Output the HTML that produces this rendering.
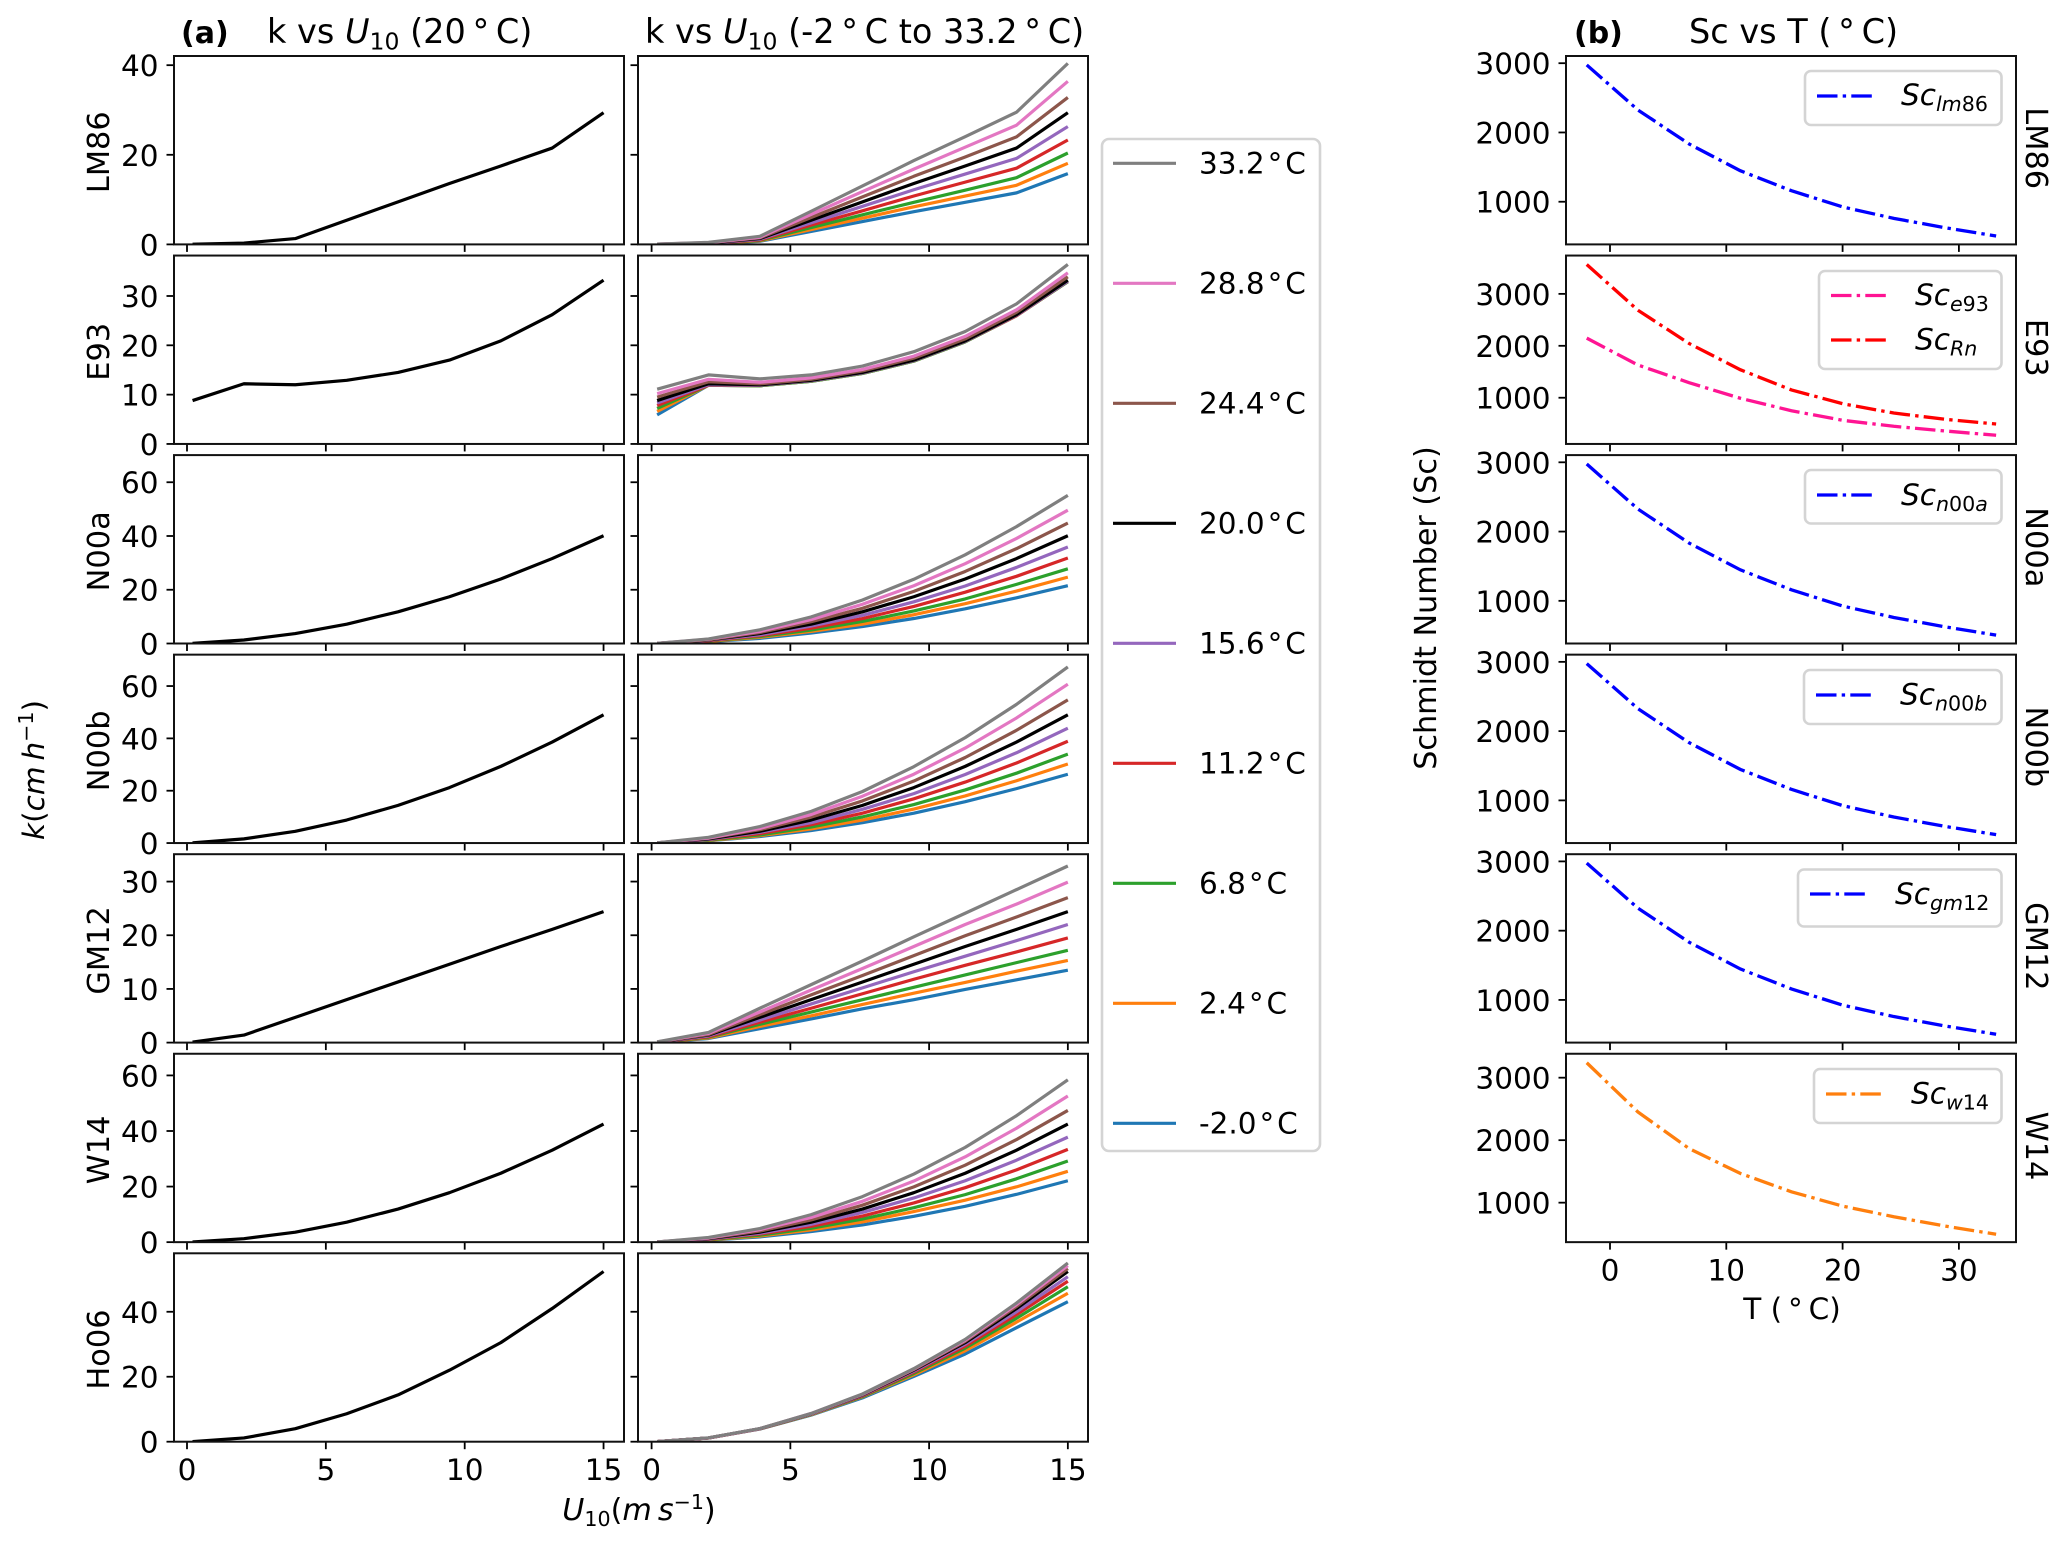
<!DOCTYPE html>
<html lang="en">
<head>
<meta charset="utf-8">
<title>Gas transfer velocity and Schmidt number panels</title>
<style>
html,body{margin:0;padding:0;background:#fff;}
svg{display:block;font-family:"DejaVu Sans","Liberation Sans",sans-serif;fill:#000;}
text{font-size:29.5px;fill:#000;}
.sub{font-size:20.6px;}
.it{font-style:italic;}
.title{font-size:33.5px;}
.title .sub{font-size:23.5px;}
.axis-title{font-size:30.2px;}
.row-label{font-size:30.4px;}
.letter{font-size:30px;font-weight:bold;}
.legend-box{fill:#fff;stroke:#d4d4d4;stroke-width:2.6;}
</style>
</head>
<body>
<svg id="figure" width="2067" height="1543" viewBox="0 0 2067 1543">
  <rect x="0" y="0" width="2067" height="1543" fill="#fff"/>
  <g id="panels"></g>

  <text class="letter" x="181" y="43">(a)</text>
  <text class="title" x="267" y="43">k vs <tspan class="it">U</tspan><tspan class="sub" dy="6.5">10</tspan><tspan dy="-6.5"> (20&#8201;°&#8201;C)</tspan></text>
  <text class="title" x="645" y="43">k vs <tspan class="it">U</tspan><tspan class="sub" dy="6.5">10</tspan><tspan dy="-6.5"> (-2&#8201;°&#8201;C to 33.2&#8201;°&#8201;C)</tspan></text>
  <text class="letter" x="1574" y="43">(b)</text>
  <text class="title" x="1689" y="43">Sc vs T (&#8201;°&#8201;C)</text>

  <text transform="translate(44,770) rotate(-90)" text-anchor="middle"><tspan class="it">k</tspan>(<tspan class="it">cm&#8201;h</tspan><tspan class="sub" dy="-11">−1</tspan><tspan dy="11">)</tspan></text>
  <text class="axis-title" x="639" y="1520" text-anchor="middle"><tspan class="it">U</tspan><tspan class="sub" dy="6">10</tspan><tspan dy="-6">(</tspan><tspan class="it">m&#8201;s</tspan><tspan class="sub" dy="-11">−1</tspan><tspan dy="11">)</tspan></text>
  <text class="axis-title" transform="translate(1436,608) rotate(-90)" text-anchor="middle">Schmidt Number (Sc)</text>
  <text x="1792" y="1319" text-anchor="middle">T (&#8201;°&#8201;C)</text>

  <g>
    <rect class="legend-box" x="1102" y="139" width="218" height="1012" rx="7"/>
    <g id="tempLegendEntries"></g>
  </g>

  <g>
    <rect class="legend-box" x="1805" y="71" width="196.5" height="54" rx="6"/>
    <line x1="1817" y1="96" x2="1877" y2="96" stroke="#0000ff" stroke-width="3.3" stroke-dasharray="20.5 5.2 3.4 5.2"/>
    <text x="1901" y="105"><tspan class="it">Sc</tspan><tspan class="sub it" dy="6">lm</tspan><tspan class="sub">86</tspan></text>
  </g>
  <g>
    <rect class="legend-box" x="1819" y="271" width="182.5" height="98" rx="6"/>
    <line x1="1831" y1="295.5" x2="1891" y2="295.5" stroke="#ff1493" stroke-width="3.3" stroke-dasharray="20.5 5.2 3.4 5.2"/>
    <text x="1915" y="305"><tspan class="it">Sc</tspan><tspan class="sub it" dy="6">e</tspan><tspan class="sub">93</tspan></text>
    <line x1="1831" y1="340" x2="1891" y2="340" stroke="#ff0000" stroke-width="3.3" stroke-dasharray="20.5 5.2 3.4 5.2"/>
    <text x="1915" y="349.5"><tspan class="it">Sc</tspan><tspan class="sub it" dy="6">Rn</tspan></text>
  </g>
  <g>
    <rect class="legend-box" x="1805" y="470" width="196.5" height="53.5" rx="6"/>
    <line x1="1817" y1="495" x2="1877" y2="495" stroke="#0000ff" stroke-width="3.3" stroke-dasharray="20.5 5.2 3.4 5.2"/>
    <text x="1901" y="505"><tspan class="it">Sc</tspan><tspan class="sub it" dy="6">n</tspan><tspan class="sub">00</tspan><tspan class="sub it">a</tspan></text>
  </g>
  <g>
    <rect class="legend-box" x="1804" y="670" width="197.5" height="54" rx="6"/>
    <line x1="1816" y1="695" x2="1876" y2="695" stroke="#0000ff" stroke-width="3.3" stroke-dasharray="20.5 5.2 3.4 5.2"/>
    <text x="1900" y="704.5"><tspan class="it">Sc</tspan><tspan class="sub it" dy="6">n</tspan><tspan class="sub">00</tspan><tspan class="sub it">b</tspan></text>
  </g>
  <g>
    <rect class="legend-box" x="1798" y="869.5" width="203.5" height="57" rx="6"/>
    <line x1="1810" y1="894" x2="1870" y2="894" stroke="#0000ff" stroke-width="3.3" stroke-dasharray="20.5 5.2 3.4 5.2"/>
    <text x="1895" y="904"><tspan class="it">Sc</tspan><tspan class="sub it" dy="6">gm</tspan><tspan class="sub">12</tspan></text>
  </g>
  <g>
    <rect class="legend-box" x="1814" y="1069" width="187.5" height="54" rx="6"/>
    <line x1="1826" y1="1094" x2="1886" y2="1094" stroke="#ff7f0e" stroke-width="3.3" stroke-dasharray="20.5 5.2 3.4 5.2"/>
    <text x="1911" y="1103.5"><tspan class="it">Sc</tspan><tspan class="sub it" dy="6">w</tspan><tspan class="sub">14</tspan></text>
  </g>
</svg>

<script>
// ---- shared categories ----
const windSpeed = [0.2, 2.05, 3.9, 5.75, 7.6, 9.45, 11.3, 13.15, 15];
const temperatures = [-2, 2.4, 6.8, 11.2, 15.6, 20, 24.4, 28.8, 33.2];
const tempLabels = ['-2.0', '2.4', '6.8', '11.2', '15.6', '20.0', '24.4', '28.8', '33.2'];
const modelNames = ['LM86', 'E93', 'N00a', 'N00b', 'GM12', 'W14', 'Ho06'];

// ---- k values, one row per temperature (coldest first) ----
const kLM86 = [
  [0.02, 0.13, 0.7, 2.9, 5.1, 7.3, 9.4, 11.5, 15.8],
  [0.02, 0.15, 0.8, 3.3, 5.85, 8.4, 10.8, 13.2, 18.1],
  [0.03, 0.17, 0.9, 3.75, 6.6, 9.4, 12.1, 14.9, 20.4],
  [0.03, 0.2, 1.0, 4.3, 7.5, 10.8, 13.9, 17.0, 23.3],
  [0.04, 0.25, 1.15, 4.8, 8.5, 12.2, 15.7, 19.2, 26.3],
  [0.05, 0.3, 1.3, 5.4, 9.5, 13.6, 17.5, 21.5, 29.4],
  [0.06, 0.35, 1.45, 6.0, 10.6, 15.2, 19.5, 24.0, 32.8],
  [0.06, 0.4, 1.6, 6.7, 11.8, 16.8, 21.7, 26.6, 36.4],
  [0.07, 0.45, 1.8, 7.4, 13.05, 18.7, 24.05, 29.5, 40.4]
];
const kE93 = [
  [5.9, 11.9, 11.8, 12.7, 14.3, 16.8, 20.7, 26.0, 32.9],
  [6.6, 11.9, 11.8, 12.7, 14.3, 16.8, 20.7, 26.0, 32.9],
  [7.2, 11.9, 11.8, 12.7, 14.3, 16.8, 20.7, 26.0, 32.9],
  [7.8, 11.9, 11.9, 12.8, 14.4, 16.9, 20.8, 26.0, 33.0],
  [8.3, 12.0, 11.9, 12.8, 14.4, 16.9, 20.8, 26.1, 33.0],
  [8.8, 12.2, 12.0, 12.9, 14.5, 17.0, 20.9, 26.2, 33.2],
  [9.5, 12.6, 12.2, 13.1, 14.8, 17.4, 21.3, 26.7, 33.9],
  [10.2, 13.1, 12.5, 13.4, 15.1, 17.8, 21.8, 27.2, 34.7],
  [11.1, 14.0, 13.2, 14.0, 15.8, 18.7, 22.8, 28.4, 36.4]
];
const kN00a = [
  [0.03, 0.69, 1.9, 3.9, 6.3, 9.3, 12.9, 17.0, 21.5],
  [0.03, 0.8, 2.3, 4.5, 7.2, 10.7, 14.8, 19.5, 24.7],
  [0.03, 0.9, 2.6, 5.0, 8.2, 12.1, 16.6, 22.0, 27.8],
  [0.04, 1.03, 2.9, 5.7, 9.3, 13.8, 19.1, 25.0, 31.8],
  [0.04, 1.19, 3.2, 6.5, 10.5, 15.5, 21.4, 28.3, 35.9],
  [0.05, 1.3, 3.7, 7.2, 11.8, 17.4, 24.0, 31.6, 40.1],
  [0.06, 1.4, 4.1, 8.1, 13.1, 19.4, 26.8, 35.3, 44.8],
  [0.06, 1.6, 4.5, 8.9, 14.6, 21.5, 29.7, 39.1, 49.6],
  [0.07, 1.7, 5.1, 9.9, 16.2, 23.9, 33.0, 43.5, 55.1]
];
const kN00b = [
  [0.03, 0.86, 2.5, 4.8, 7.8, 11.4, 15.8, 20.8, 26.3],
  [0.04, 0.97, 2.8, 5.4, 8.8, 13.0, 18.0, 23.8, 30.2],
  [0.04, 1.08, 3.1, 6.1, 10.0, 14.7, 20.3, 26.7, 34.0],
  [0.05, 1.3, 3.6, 7.0, 11.4, 16.9, 23.3, 30.6, 38.9],
  [0.05, 1.4, 4.1, 7.8, 12.9, 18.9, 26.2, 34.5, 43.9],
  [0.06, 1.6, 4.5, 8.8, 14.4, 21.2, 29.3, 38.6, 49.0],
  [0.07, 1.8, 5.1, 9.9, 16.1, 23.7, 32.7, 43.1, 54.7],
  [0.07, 1.9, 5.6, 10.9, 17.9, 26.3, 36.3, 47.8, 60.7],
  [0.08, 2.2, 6.3, 12.1, 19.7, 29.2, 40.3, 53.0, 67.3]
];
const kGM12 = [
  [0.05, 0.77, 2.6, 4.4, 6.3, 8.0, 9.9, 11.7, 13.5],
  [0.06, 0.87, 3.0, 5.0, 7.1, 9.2, 11.2, 13.3, 15.3],
  [0.07, 1.0, 3.4, 5.7, 8.0, 10.3, 12.6, 14.9, 17.2],
  [0.08, 1.1, 3.8, 6.4, 9.1, 11.8, 14.4, 16.9, 19.5],
  [0.09, 1.25, 4.2, 7.2, 10.2, 13.2, 16.1, 19.0, 22.0],
  [0.1, 1.4, 4.7, 8.0, 11.3, 14.6, 17.9, 21.1, 24.4],
  [0.11, 1.5, 5.2, 8.9, 12.5, 16.2, 19.9, 23.4, 27.0],
  [0.12, 1.7, 5.7, 9.8, 13.8, 17.9, 22.0, 25.8, 29.9],
  [0.14, 1.9, 6.4, 10.8, 15.2, 19.7, 24.1, 28.5, 32.9]
];
const kW14 = [
  [0.03, 0.65, 1.9, 3.8, 6.2, 9.3, 12.9, 17.2, 22.1],
  [0.04, 0.77, 2.2, 4.4, 7.3, 11.0, 15.1, 19.9, 25.5],
  [0.04, 0.87, 2.5, 5.0, 8.3, 12.4, 17.1, 22.8, 29.2],
  [0.05, 1.0, 2.9, 5.7, 9.4, 14.1, 19.6, 26.0, 33.4],
  [0.05, 1.1, 3.2, 6.4, 10.7, 15.9, 22.1, 29.5, 37.8],
  [0.06, 1.25, 3.6, 7.2, 11.9, 17.8, 24.8, 33.1, 42.5],
  [0.07, 1.4, 4.0, 8.0, 13.3, 19.9, 27.7, 36.9, 47.4],
  [0.07, 1.5, 4.5, 8.9, 14.7, 22.0, 30.7, 41.0, 52.6],
  [0.08, 1.7, 4.9, 9.9, 16.4, 24.5, 34.1, 45.5, 58.4]
];
const kHo06 = [
  [0.05, 1.14, 3.9, 8.2, 13.5, 20.1, 27.0, 35.1, 43.1],
  [0.05, 1.14, 3.94, 8.3, 13.8, 20.6, 28.0, 36.8, 45.7],
  [0.05, 1.15, 3.96, 8.4, 13.9, 21.0, 28.8, 38.0, 47.7],
  [0.05, 1.15, 3.97, 8.5, 14.1, 21.4, 29.4, 39.1, 49.4],
  [0.05, 1.15, 3.99, 8.5, 14.3, 21.7, 30.0, 40.0, 50.8],
  [0.05, 1.15, 4.0, 8.6, 14.4, 22.0, 30.5, 41.0, 52.4],
  [0.05, 1.15, 4.0, 8.6, 14.5, 22.2, 30.9, 41.6, 53.3],
  [0.05, 1.15, 4.02, 8.7, 14.6, 22.4, 31.2, 42.2, 54.2],
  [0.05, 1.2, 4.05, 8.7, 14.7, 22.5, 31.5, 42.7, 55.0]
];

// ---- Schmidt number curves ----
const scLM86 = [2975, 2325, 1834, 1448, 1159, 925, 760, 625, 505];
const scE93 = [2148, 1630, 1290, 990, 750, 565, 450, 360, 277];
const scRn = [3565, 2685, 2045, 1540, 1150, 885, 705, 585, 494];
const scN00a = [2975, 2325, 1834, 1448, 1159, 925, 760, 625, 505];
const scN00b = [2975, 2325, 1834, 1448, 1159, 925, 760, 625, 505];
const scGM12 = [2975, 2325, 1834, 1448, 1159, 925, 760, 625, 505];
const scW14 = [3239, 2451, 1866, 1468, 1174, 945, 775, 626, 494];

// ---- axis limits and tick labels ----
const kYMax = [42.05, 38.2, 70.1, 72, 35.1, 67.8, 58];
const kYTicksLM86 = [0, 20, 40];
const kYTicksE93 = [0, 10, 20, 30];
const kYTicksN00a = [0, 20, 40, 60];
const kYTicksN00b = [0, 20, 40, 60];
const kYTicksGM12 = [0, 10, 20, 30];
const kYTicksW14 = [0, 20, 40, 60];
const kYTicksHo06 = [0, 20, 40];
const scYMin = [384, 110, 384, 384, 384, 368];
const scYMax = [3104, 3738, 3104, 3104, 3104, 3383];
const scYTicks = [1000, 2000, 3000];
const windTicks = [0, 5, 10, 15];
const tempTicks = [0, 10, 20, 30];

const kSets = [kLM86, kE93, kN00a, kN00b, kGM12, kW14, kHo06];
const kTickSets = [kYTicksLM86, kYTicksE93, kYTicksN00a, kYTicksN00b, kYTicksGM12, kYTicksW14, kYTicksHo06];
const scCurves = [[scLM86], [scE93, scRn], [scN00a], [scN00b], [scGM12], [scW14]];
const scCurveNames = [['lm86'], ['e93', 'rn'], ['n00a'], ['n00b'], ['gm12'], ['w14']];
const scCurveColors = [['#0000ff'], ['#ff1493', '#ff0000'], ['#0000ff'], ['#0000ff'], ['#0000ff'], ['#ff7f0e']];
const tempColors = ['#1f77b4', '#ff7f0e', '#2ca02c', '#d62728', '#9467bd', '#000000', '#8c564b', '#e377c2', '#7f7f7f'];
const tempSlug = ['m2-0', '2-4', '6-8', '11-2', '15-6', '20-0', '24-4', '28-8', '33-2'];

// ---- layout ----
const rowTop0 = 56, rowPitch = 199.55, rowH = 188.4;
const colLeft = { x: 174, w: 450, origin: 187, perUnit: 27.77 };
const colMid = { x: 638, w: 450, origin: 651.6, perUnit: 27.75 };
const colRight = { x: 1566, w: 450, origin: 1610, perUnit: 11.63 };

const svg = document.getElementById('figure');
const panels = document.getElementById('panels');
const svgNS = svg.namespaceURI;

function mk(tag, parent, attrs) {
  const el = document.createElementNS(svgNS, tag);
  for (const k in attrs) el.setAttribute(k, attrs[k]);
  parent.appendChild(el);
  return el;
}
function linear(origin, perUnit) { return v => origin + v * perUnit; }
function yAxis(top, h, lo, hi) { return v => top + h - (v - lo) / (hi - lo) * h; }
function pathFrom(xs, ys, xf, yf) {
  return xs.map((x, i) => (i ? 'L' : 'M') + xf(x).toFixed(2) + ' ' + yf(ys[i]).toFixed(2)).join('');
}

function drawAxes(name, col, top, xf, xTicks, yf, yTicks, showXLabels, showYLabels) {
  const g = mk('g', panels, {});
  
  
  const clip = mk('clipPath', g, { id: 'clip-' + name });
  mk('rect', clip, { x: col.x, y: top, width: col.w, height: rowH });
  const marks = mk('g', g, { 'clip-path': 'url(#clip-' + name + ')' });
  
  
  xTicks.forEach(t => {
    const tick = mk('line', g, { x1: xf(t), x2: xf(t), y1: top + rowH, y2: top + rowH + 7.5, stroke: '#000', 'stroke-width': 1.8 });
    
    
    if (showXLabels) {
      const lab = mk('text', g, { x: xf(t), y: top + rowH + 38.5, 'text-anchor': 'middle' });
      
      
      lab.textContent = t;
    }
  });
  yTicks.forEach(t => {
    const tick = mk('line', g, { x1: col.x - 7.5, x2: col.x, y1: yf(t), y2: yf(t), stroke: '#000', 'stroke-width': 1.8 });
    
    
    if (showYLabels) {
      const lab = mk('text', g, { x: col.x - 15.5, y: yf(t) + 11, 'text-anchor': 'end' });
      
      
      lab.textContent = t;
    }
  });
  return { g, marks };
}
function drawFrame(g, name, col, top) {
  const frame = mk('rect', g, { x: col.x, y: top, width: col.w, height: rowH, fill: 'none', stroke: '#111', 'stroke-width': 2 });
  
  
}

modelNames.forEach((model, r) => {
  const top = rowTop0 + r * rowPitch;
  const slug = model.toLowerCase();
  const last = r === modelNames.length - 1;
  const yf = yAxis(top, rowH, 0, kYMax[r]);

  // left column: 20 degree series only
  const leftName = 'k-20c-' + slug + '-axes';
  const xfL = linear(colLeft.origin, colLeft.perUnit);
  const L = drawAxes(leftName, colLeft, top, xfL, windTicks, yf, kTickSets[r], last, true);
  const blackLine = mk('path', L.marks, { d: pathFrom(windSpeed, kSets[r][5], xfL, yf), fill: 'none', stroke: '#000', 'stroke-width': 3.2, 'stroke-linejoin': 'round' });
  
  
  drawFrame(L.g, leftName, colLeft, top);

  const rowLabel = mk('text', L.g, { class: 'row-label', transform: 'translate(109,' + (top + rowH / 2 + 2) + ') rotate(-90)', 'text-anchor': 'middle' });
  
  
  rowLabel.textContent = model;

  // middle column: all temperatures
  const midName = 'k-all-temps-' + slug + '-axes';
  const xfM = linear(colMid.origin, colMid.perUnit);
  const M = drawAxes(midName, colMid, top, xfM, windTicks, yf, kTickSets[r], last, false);
  kSets[r].forEach((vals, t) => {
    const line = mk('path', M.marks, { d: pathFrom(windSpeed, vals, xfM, yf), fill: 'none', stroke: tempColors[t], 'stroke-width': 3.2, 'stroke-linejoin': 'round' });
    
    
  });
  drawFrame(M.g, midName, colMid, top);
});

// right column: Schmidt number
scCurves.forEach((curves, r) => {
  const top = rowTop0 + r * rowPitch;
  const model = modelNames[r];
  const slug = model.toLowerCase();
  const yf = yAxis(top, rowH, scYMin[r], scYMax[r]);
  const xf = linear(colRight.origin, colRight.perUnit);
  const name = 'sc-' + slug + '-axes';
  const A = drawAxes(name, colRight, top, xf, tempTicks, yf, scYTicks, r === scCurves.length - 1, true);
  curves.forEach((vals, c) => {
    const line = mk('path', A.marks, { d: pathFrom(temperatures, vals, xf, yf), fill: 'none', stroke: scCurveColors[r][c], 'stroke-width': 3.3, 'stroke-dasharray': '20.5 5.2 3.4 5.2' });
    
    
  });
  drawFrame(A.g, name, colRight, top);
  const rowLabel = mk('text', A.g, { class: 'row-label', transform: 'translate(2026,' + (top + rowH / 2 - 2) + ') rotate(90)', 'text-anchor': 'middle' });
  
  
  rowLabel.textContent = model;
});

// temperature legend, warmest first
const legendGroup = document.getElementById('tempLegendEntries');
for (let i = 0; i < tempLabels.length; i++) {
  const t = tempLabels.length - 1 - i;
  const yPos = 163.3 + i * 120;
  const sample = mk('line', legendGroup, { x1: 1113, x2: 1176, y1: yPos, y2: yPos, stroke: tempColors[t], 'stroke-width': 3.2 });
  
  
  const lab = mk('text', legendGroup, { x: 1199, y: yPos + 10 });
  
  
  lab.textContent = tempLabels[t] + '\u200a°\u200aC';
}
</script>
</body>
</html>
